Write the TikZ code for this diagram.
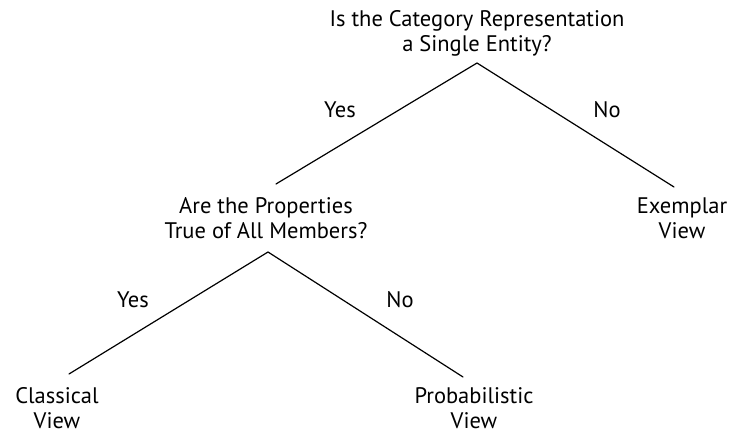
\documentclass[tikz,border=0pt]{standalone}
\usepackage{fontspec}
\setmainfont{PT Sans}
\begin{document}
\begin{tikzpicture}[x=1pt,y=-1pt,
  lbl/.style={inner sep=0pt,anchor=base,align=center,font=\fontsize{22.5}{25}\selectfont},
  branch/.style={line width=1.2pt,line cap=round}]
\useasboundingbox (0,0) rectangle (734,433);
% questions and outcomes (anchor base = last line's baseline)
\node[lbl] (q1) at (477,52) {Is the Category Representation\\a Single Entity?};
\node[lbl] (q2) at (266,238) {Are the Properties\\True of All Members?};
\node[lbl] (ex) at (682,238) {Exemplar\\View};
\node[lbl] (cl) at (57,428) {Classical\\View};
\node[lbl] (pr) at (474,428) {Probabilistic\\View};
% branch points
\coordinate (a1) at (477,63);
\coordinate (l1) at (276,184);
\coordinate (r1) at (674,187);
\coordinate (a2) at (268,252);
\coordinate (l2) at (69,374);
\coordinate (r2) at (463,377);
\draw[branch] (l1) -- (a1) -- (r1);
\draw[branch] (l2) -- (a2) -- (r2);
% labels
\node[lbl] (y1) at (340,118) {Yes};
\node[lbl] (n1) at (607,118) {No};
\node[lbl] (y2) at (133,307) {Yes};
\node[lbl] (n2) at (400,307) {No};
\end{tikzpicture}
\end{document}
